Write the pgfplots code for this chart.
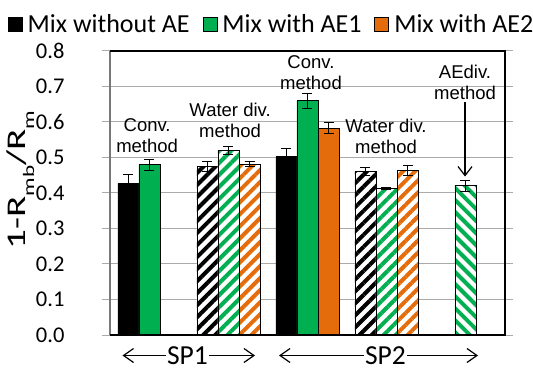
\documentclass[border=0pt]{standalone}
\usepackage{pgfplots}
\pgfplotsset{compat=1.18}
\usepackage{fontspec}
\setmainfont{Carlito}
\newfontfamily\arialf{Liberation Sans}
\usetikzlibrary{patterns.meta,arrows.meta}
\definecolor{xgreen}{RGB}{0,176,80}
\definecolor{xorange}{RGB}{228,108,10}
\definecolor{xgrid}{RGB}{170,170,170}
\definecolor{xaxis}{RGB}{120,120,120}
\tikzset{
  hatchA/.style={draw=black, fill=white, line width=0.8pt,
    postaction={pattern={Lines[angle=45,distance=8.5pt,line width=4pt]}, pattern color=#1}},
  hatchB/.style={draw=black, fill=white, line width=0.8pt,
    postaction={pattern={Lines[angle=-45,distance=8.5pt,line width=4pt]}, pattern color=#1}},
  lbl/.style={font=\arialf\fontsize{18.5}{21}\selectfont, align=center, inner sep=0pt}
}
\begin{document}
\begin{tikzpicture}
\useasboundingbox (-110pt,-35pt) rectangle (423pt,335pt);
\begin{axis}[
  at={(0pt,0pt)}, anchor=south west,
  scale only axis, width=395pt, height=284.3pt,
  xmin=-0.5, xmax=4.5, ymin=0, ymax=0.8,
  ytick={0,0.1,0.2,0.3,0.4,0.5,0.6,0.7,0.8}, xtick=\empty,
  ymajorgrids, grid style={xgrid, line width=0.9pt},
  axis line style={draw=none},
  tick align=outside, major tick length=8pt,
  ytick style={xgrid, line width=0.9pt},
  yticklabel={\pgfmathprintnumber[fixed,fixed zerofill,precision=1,assume math mode=true]{\tick}},
  yticklabel style={font=\fontsize{22.5}{22.5}\selectfont, anchor=east, xshift=-34pt},
  ylabel={\scalebox{1.45}[1]{1-R\raisebox{-0.3em}{\fontsize{16}{16}\selectfont mb}/R\raisebox{-0.3em}{\fontsize{16}{16}\selectfont m}}},
  ylabel style={font=\fontsize{27}{27}\selectfont, at={(axis description cs:-0.226,0.545)}, anchor=center},
  clip=false,
  ybar, bar width=21pt,
  error bars/error bar style={black, line width=0.9pt, solid},
  error bars/error mark options={black, line width=0.9pt, mark size=5pt, rotate=90},
  legend columns=3,
  legend image code/.code={\fill[#1] (0pt,-7pt) rectangle (14pt,7pt);},
  legend style={at={(axis description cs:-0.259,1.094)}, anchor=west, draw=none, fill=none,
    font=\fontsize{26}{26}\selectfont, inner sep=0pt,
    /tikz/every even column/.append style={column sep=10pt},
    /tikz/every odd column/.append style={column sep=2pt},
    nodes={inner sep=3pt}},
]
% solid bars
\addplot[draw=black, fill=black, line width=0.8pt, bar shift=0pt,
  error bars/.cd, y dir=both, y explicit]
  coordinates {(-0.266,0.427) +- (0,0.024) (1.734,0.502) +- (0,0.023)};
\addlegendentry{Mix without AE}
\addplot[draw=black, fill=xgreen, line width=0.8pt, bar shift=0pt,
  error bars/.cd, y dir=both, y explicit]
  coordinates {(0,0.479) +- (0,0.015) (2,0.659) +- (0,0.022)};
\addlegendentry{Mix with AE1}
\addplot[draw=black, fill=xorange, line width=0.8pt, bar shift=0pt,
  error bars/.cd, y dir=both, y explicit]
  coordinates {(2.266,0.582) +- (0,0.016)};
\addlegendentry{Mix with AE2}
% hatched bars (water division method)
\addplot[hatchA=black, bar shift=0pt, forget plot,
  error bars/.cd, y dir=both, y explicit]
  coordinates {(0.734,0.474) +- (0,0.013) (2.734,0.460) +- (0,0.012)};
\addplot[hatchA=xgreen, bar shift=0pt, forget plot,
  error bars/.cd, y dir=both, y explicit]
  coordinates {(1,0.520) +- (0,0.011) (3,0.412) +- (0,0.002)};
\addplot[hatchA=xorange, bar shift=0pt, forget plot,
  error bars/.cd, y dir=both, y explicit]
  coordinates {(1.266,0.481) +- (0,0.008) (3.266,0.464) +- (0,0.014)};
% AE division method
\addplot[hatchB=xgreen, bar shift=0pt, forget plot,
  error bars/.cd, y dir=both, y explicit]
  coordinates {(4,0.420) +- (0,0.016)};
% frame
\draw[xaxis, line width=2pt] (rel axis cs:0,0) -- (rel axis cs:0,1);
\draw[black, line width=2pt] (rel axis cs:0,0) -- (rel axis cs:1,0) -- (rel axis cs:1,1) -- (rel axis cs:0,1);
% annotations
\node[lbl] at (axis cs:-0.03,0.561) {Conv.\\method};
\node[lbl] at (axis cs:1.02,0.605) {Water div.\\method};
\node[lbl] at (axis cs:2.044,0.739) {Conv.\\method};
\node[lbl] at (axis cs:2.994,0.559) {Water div.\\method};
\node[lbl] at (axis cs:3.994,0.710) {AEdiv.\\method};
\draw[-{Straight Barb[length=9pt,width=14pt]}, line width=1.2pt] (axis cs:3.994,0.656) -- (axis cs:3.994,0.446);
\end{axis}
% SP labels
\node[anchor=base, font=\fontsize{27.5}{27.5}\selectfont, inner sep=1pt] (sp1) at (77.5pt,-29.5pt) {SP1};
\draw[{Straight Barb[length=10pt,width=14pt]}-, line width=1.2pt] (12.5pt,-20.5pt) -- (sp1.west |- 0,-20.5pt);
\draw[-{Straight Barb[length=10pt,width=14pt]}, line width=1.2pt] (sp1.east |- 0,-20.5pt) -- (145pt,-20.5pt);
\node[anchor=base, font=\fontsize{27.5}{27.5}\selectfont, inner sep=1pt] (sp2) at (275.5pt,-29.5pt) {SP2};
\draw[{Straight Barb[length=10pt,width=14pt]}-, line width=1.2pt] (169pt,-20.5pt) -- (sp2.west |- 0,-20.5pt);
\draw[-{Straight Barb[length=10pt,width=14pt]}, line width=1.2pt] (sp2.east |- 0,-20.5pt) -- (368pt,-20.5pt);
\end{tikzpicture}
\end{document}
